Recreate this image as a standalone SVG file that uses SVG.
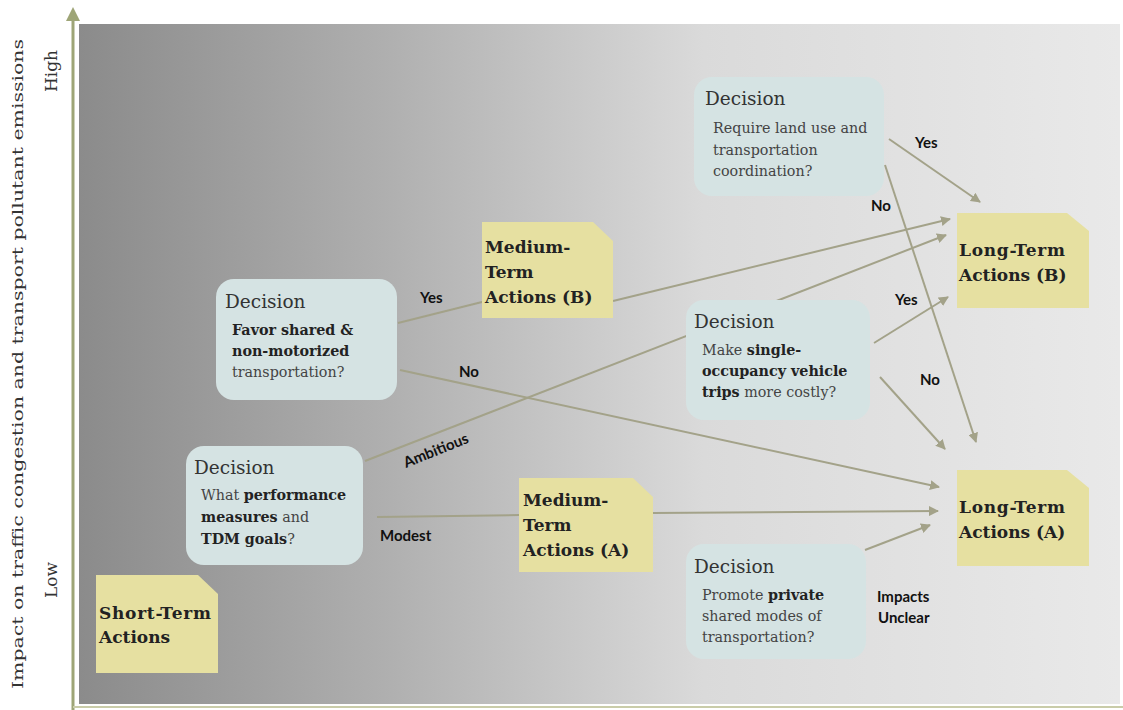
<svg xmlns="http://www.w3.org/2000/svg" width="1123" height="710" viewBox="0 0 1123 710">
<defs>
<linearGradient id="bg" x1="79" y1="0" x2="1120" y2="0" gradientUnits="userSpaceOnUse">
<stop offset="0" stop-color="#8b8b8b"/>
<stop offset="0.3" stop-color="#b0b0b0"/>
<stop offset="0.6" stop-color="#dadada"/>
<stop offset="1" stop-color="#e9e9e9"/>
</linearGradient>
<marker id="ah" viewBox="0 0 10 10" refX="9" refY="5" markerWidth="10" markerHeight="10" markerUnits="userSpaceOnUse" orient="auto">
<path d="M0,0 L10,5 L0,10 z" fill="#a3a289"/>
</marker>
<marker id="axh" viewBox="0 0 10 10" refX="5" refY="5" markerWidth="14" markerHeight="14" markerUnits="userSpaceOnUse" orient="auto">
<path d="M0,0 L10,5 L0,10 z" fill="#9ea577"/>
</marker>
<style>
.dec{fill:#d5e3e3}
.act{fill:#e6e0a1}
.t{font-family:"DejaVu Serif","Liberation Serif",serif;fill:#222}
.h{font-size:18.5px;fill:#333}
.b{font-size:14.3px;fill:#444}
.bb{font-weight:bold;fill:#222}
.at{font-size:17px;font-weight:bold}
.lbl{font-family:Lato,"Liberation Sans",sans-serif;font-size:15px;font-weight:bold;fill:#111}
.c{stroke:#a3a289;stroke-width:2;fill:none}
.ax{font-family:"DejaVu Serif","Liberation Serif",serif;font-size:15px;fill:#333}
.axs{font-size:17px}
</style>
</defs>
<rect x="79" y="24" width="1041" height="680" fill="url(#bg)"/>
<g id="axes">
<line x1="73" y1="710" x2="73" y2="14" stroke="#9ea577" stroke-width="3" marker-end="url(#axh)"/>
<line x1="73" y1="707" x2="1123" y2="707" stroke="#c9cca9" stroke-width="2"/>
<text class="ax axs" transform="translate(57,71) rotate(-90)" text-anchor="middle">High</text>
<text class="ax axs" transform="translate(57,580) rotate(-90)" text-anchor="middle">Low</text>
<text class="ax" transform="translate(23,364) rotate(-90)" text-anchor="middle" textLength="650" lengthAdjust="spacingAndGlyphs">Impact on traffic congestion and transport pollutant emissions</text>
</g>
<g id="connectors">
<line class="c" x1="365" y1="461" x2="946" y2="235" marker-end="url(#ah)"/>
<line class="c" x1="398" y1="323" x2="482" y2="302"/>
<line class="c" x1="613" y1="301" x2="950" y2="219" marker-end="url(#ah)"/>
<line class="c" x1="400" y1="370" x2="939" y2="487" marker-end="url(#ah)"/>
<line class="c" x1="377" y1="517" x2="519" y2="515"/>
<line class="c" x1="653" y1="513" x2="938" y2="511" marker-end="url(#ah)"/>
<line class="c" x1="889" y1="139" x2="980" y2="202" marker-end="url(#ah)"/>
<line class="c" x1="885" y1="165" x2="976" y2="442" marker-end="url(#ah)"/>
<line class="c" x1="874" y1="343" x2="948" y2="297" marker-end="url(#ah)"/>
<line class="c" x1="880" y1="377" x2="945" y2="449" marker-end="url(#ah)"/>
<line class="c" x1="865" y1="550" x2="930" y2="525" marker-end="url(#ah)"/>
<text class="lbl" x="420" y="303">Yes</text>
<text class="lbl" x="459" y="377">No</text>
<text class="lbl" transform="translate(406,468) rotate(-22)">Ambitious</text>
<text class="lbl" x="380" y="541">Modest</text>
<text class="lbl" x="915" y="148">Yes</text>
<text class="lbl" x="871" y="211">No</text>
<text class="lbl" x="895" y="305">Yes</text>
<text class="lbl" x="920" y="385">No</text>
<text class="lbl" x="877" y="602">Impacts</text>
<text class="lbl" x="878" y="623">Unclear</text>
</g>
<g id="short-term">
<path class="act" d="M96,575 H198 L218,594 V673 H96 Z"/>
<text class="t at" x="99" y="619" textLength="112" lengthAdjust="spacing">Short-Term</text>
<text class="t at" x="99" y="643">Actions</text>
</g>
<g id="decision-performance">
<rect class="dec" x="186" y="446" width="177" height="119" rx="18"/>
<text class="t h" x="194" y="474">Decision</text>
<text class="t b" x="201" y="500">What <tspan class="bb">performance</tspan></text>
<text class="t b" x="201" y="522"><tspan class="bb">measures</tspan> and</text>
<text class="t b" x="201" y="544"><tspan class="bb">TDM goals</tspan>?</text>
</g>
<g id="decision-favor">
<rect class="dec" x="216" y="279" width="181" height="121" rx="18"/>
<text class="t h" x="225" y="308">Decision</text>
<text class="t b bb" x="232" y="335">Favor shared &amp;</text>
<text class="t b bb" x="232" y="356">non-motorized</text>
<text class="t b" x="232" y="377">transportation?</text>
</g>
<g id="medium-b">
<path class="act" d="M482,222 H593 L613,241 V318 H482 Z"/>
<text class="t at" x="485" y="253">Medium-</text>
<text class="t at" x="485" y="278">Term</text>
<text class="t at" x="485" y="303">Actions (B)</text>
</g>
<g id="medium-a">
<path class="act" d="M519,478 H633 L653,497 V572 H519 Z"/>
<text class="t at" x="523" y="506">Medium-</text>
<text class="t at" x="523" y="531">Term</text>
<text class="t at" x="523" y="556">Actions (A)</text>
</g>
<g id="decision-landuse">
<rect class="dec" x="694" y="77" width="190" height="119" rx="18"/>
<text class="t h" x="705" y="105">Decision</text>
<text class="t b" x="713" y="133">Require land use and</text>
<text class="t b" x="713" y="155">transportation</text>
<text class="t b" x="713" y="176">coordination?</text>
</g>
<g id="decision-sov">
<rect class="dec" x="686" y="300" width="184" height="120" rx="18"/>
<text class="t h" x="694" y="328">Decision</text>
<text class="t b" x="702" y="355">Make <tspan class="bb">single-</tspan></text>
<text class="t b bb" x="702" y="376">occupancy vehicle</text>
<text class="t b" x="702" y="397"><tspan class="bb">trips</tspan> more costly?</text>
</g>
<g id="decision-private">
<rect class="dec" x="686" y="544" width="180" height="115" rx="18"/>
<text class="t h" x="694" y="573">Decision</text>
<text class="t b" x="702" y="600">Promote <tspan class="bb">private</tspan></text>
<text class="t b" x="702" y="621">shared modes of</text>
<text class="t b" x="702" y="642">transportation?</text>
</g>
<g id="long-b">
<path class="act" d="M957,213 H1067 L1089,231 V308 H957 Z"/>
<text class="t at" x="959" y="256" textLength="106" lengthAdjust="spacing">Long-Term</text>
<text class="t at" x="959" y="281">Actions (B)</text>
</g>
<g id="long-a">
<path class="act" d="M957,470 H1067 L1089,488 V566 H957 Z"/>
<text class="t at" x="959" y="513" textLength="106" lengthAdjust="spacing">Long-Term</text>
<text class="t at" x="959" y="538">Actions (A)</text>
</g>
</svg>
